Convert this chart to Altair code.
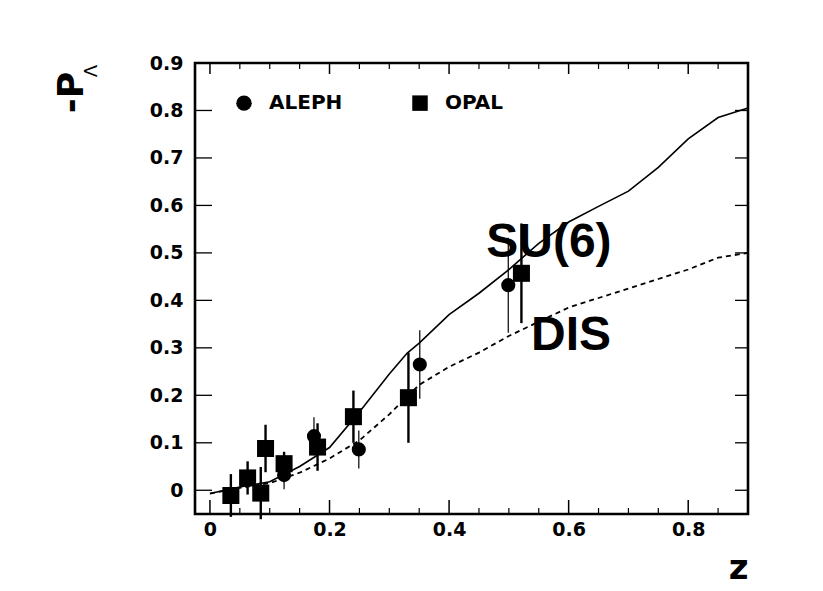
import altair as alt
import pandas as pd

# ---------------- data ----------------
aleph_z = [0.124, 0.174, 0.249, 0.351, 0.499]
aleph_p = [0.032, 0.114, 0.086, 0.265, 0.432]
aleph_err = [0.030, 0.040, 0.040, 0.072, 0.100]

opal_z = [0.035, 0.063, 0.085, 0.093, 0.124, 0.180, 0.240, 0.332, 0.521]
opal_p = [-0.011, 0.026, -0.006, 0.088, 0.056, 0.091, 0.155, 0.195, 0.457]
opal_err = [0.045, 0.035, 0.055, 0.050, 0.025, 0.050, 0.055, 0.095, 0.105]

su6_z = [0, 0.05, 0.1, 0.15, 0.2, 0.25, 0.3, 0.33, 0.35, 0.4, 0.45, 0.5,
         0.55, 0.6, 0.65, 0.7, 0.75, 0.8, 0.85, 0.9]
su6_p = [-0.007, 0.007, 0.018, 0.05, 0.09, 0.165, 0.245, 0.289, 0.31, 0.37,
         0.415, 0.465, 0.52, 0.565, 0.598, 0.63, 0.68, 0.74, 0.785, 0.805]

dis_z = [0, 0.05, 0.1, 0.15, 0.2, 0.25, 0.3, 0.35, 0.4, 0.45, 0.5, 0.55,
         0.6, 0.65, 0.7, 0.75, 0.8, 0.85, 0.9]
dis_p = [-0.007, 0.005, 0.015, 0.037, 0.067, 0.105, 0.16, 0.222, 0.26, 0.29,
         0.325, 0.355, 0.385, 0.405, 0.425, 0.445, 0.465, 0.49, 0.5]

curve_labels = ["SU(6)", "DIS"]
curve_label_z = [0.567, 0.604]
curve_label_p = [0.492, 0.295]

x_major = [0, 0.2, 0.4, 0.6, 0.8]
x_minor = [0.05, 0.1, 0.15, 0.25, 0.3, 0.35, 0.45, 0.5, 0.55, 0.65, 0.7, 0.75, 0.85]
y_ticks = [0, 0.1, 0.2, 0.3, 0.4, 0.5, 0.6, 0.7, 0.8]

# ---------------- frames ----------------
pts = pd.DataFrame({
    "z": aleph_z + opal_z,
    "p": aleph_p + opal_p,
    "err": aleph_err + opal_err,
    "exp": ["ALEPH"] * len(aleph_z) + ["OPAL"] * len(opal_z),
})
pts["lo"] = pts["p"] - pts["err"]
pts["hi"] = pts["p"] + pts["err"]
aleph = pts[pts["exp"] == "ALEPH"]
opal = pts[pts["exp"] == "OPAL"]

su6 = pd.DataFrame({"z": su6_z, "p": su6_p})
dis = pd.DataFrame({"z": dis_z, "p": dis_p})
lab = pd.DataFrame({"z": curve_label_z, "p": curve_label_p, "t": curve_labels})
xmaj = pd.DataFrame({"z": x_major})
xmin = pd.DataFrame({"z": x_minor})
yt = pd.DataFrame({"p": y_ticks})

W, H = 553, 451
FONT = "DejaVu Sans"

xs = alt.Scale(domain=[-0.025, 0.9], nice=False, zero=False)
ys = alt.Scale(domain=[-0.05, 0.9], nice=False, zero=False)

xaxis = alt.Axis(values=x_major, format=".1~f", ticks=False, domain=False, grid=False,
                 labelFont=FONT, labelFontSize=19, labelFontWeight="bold", labelColor="black",
                 labelPadding=6, title="z", titleFont=FONT, titleFontSize=34,
                 titleFontWeight="bold", titleAnchor="end", titleAlign="right",
                 titleBaseline="alphabetic", titleX=W, titleY=64)
yaxis = alt.Axis(values=[0, 0.1, 0.2, 0.3, 0.4, 0.5, 0.6, 0.7, 0.8, 0.9], format=".1~f",
                 ticks=False, domain=False, grid=False,
                 labelFont=FONT, labelFontSize=19, labelFontWeight="bold", labelColor="black",
                 labelPadding=12, title="-P", titleFont=FONT, titleFontSize=36,
                 titleFontWeight="bold", titleAngle=270, titleAlign="center",
                 titleBaseline="middle", titleX=-124, titleY=29)


def X(f="z"):
    return alt.X(f, type="quantitative", scale=xs, axis=xaxis, title="z")


def Y(f="p"):
    return alt.Y(f, type="quantitative", scale=ys, axis=yaxis, title="-P")


shape_scale = alt.Scale(domain=["ALEPH", "OPAL"], range=["circle", "square"])
shape_legend = alt.Legend(orient="none", legendX=39, legendY=30, direction="horizontal",
                          title=None, labelFont=FONT, labelFontSize=20,
                          labelFontWeight="bold", labelColor="black",
                          symbolSize=240, symbolFillColor="black",
                          symbolStrokeColor="black", symbolOpacity=1,
                          labelOffset=15, columnPadding=66)

su6_line = alt.Chart(su6).mark_line(color="black", strokeWidth=1.6).encode(x=X(), y=Y())
dis_line = alt.Chart(dis).mark_line(color="black", strokeWidth=1.8, strokeDash=[5, 4]).encode(
    x=X(), y=Y())

err_aleph = alt.Chart(aleph).mark_rule(color="black", strokeWidth=1.2).encode(
    x=X(), y=Y("lo"), y2="hi")
err_opal = alt.Chart(opal).mark_rule(color="black", strokeWidth=2.4).encode(
    x=X(), y=Y("lo"), y2="hi")

pts_aleph = alt.Chart(aleph).mark_point(filled=True, opacity=1, color="black", size=200).encode(
    x=X(), y=Y(), shape=alt.Shape("exp:N", scale=shape_scale, legend=shape_legend))
pts_opal = alt.Chart(opal).mark_point(filled=True, opacity=1, color="black", size=290).encode(
    x=X(), y=Y(), shape=alt.Shape("exp:N", scale=shape_scale, legend=shape_legend))

texts = alt.Chart(lab).mark_text(
    font="Liberation Sans", fontSize=48, fontWeight="bold", color="black",
    align="center", baseline="alphabetic"
).encode(x=X(), y=Y(), text="t:N")

lam = alt.Chart(pd.DataFrame({"t": ["Λ"]})).mark_text(
    font=FONT, fontSize=18, angle=270, color="black", align="center", baseline="middle"
).encode(x=alt.value(-103), y=alt.value(8), text="t:N")

tick_b_major = alt.Chart(xmaj).mark_rule(color="black", strokeWidth=1.5).encode(
    x=X(), y=alt.value(H), y2=alt.value(H - 14))
tick_b_minor = alt.Chart(xmin).mark_rule(color="black", strokeWidth=1.2).encode(
    x=X(), y=alt.value(H), y2=alt.value(H - 6))
tick_t_major = alt.Chart(xmaj).mark_rule(color="black", strokeWidth=1.5).encode(
    x=X(), y=alt.value(0), y2=alt.value(11))
tick_t_minor = alt.Chart(xmin).mark_rule(color="black", strokeWidth=1.2).encode(
    x=X(), y=alt.value(0), y2=alt.value(6))
tick_l = alt.Chart(yt).mark_rule(color="black", strokeWidth=1.3).encode(
    y=Y(), x=alt.value(0), x2=alt.value(17))
tick_r = alt.Chart(yt).mark_rule(color="black", strokeWidth=1.3).encode(
    y=Y(), x=alt.value(W), x2=alt.value(W - 13))

chart = alt.layer(
    su6_line, dis_line, err_aleph, err_opal, pts_aleph, pts_opal, texts, lam,
    tick_b_major, tick_b_minor, tick_t_major, tick_t_minor, tick_l, tick_r,
).properties(
    width=W, height=H,
    autosize=alt.AutoSizeParams(type="none"),
    padding={"left": 187, "top": 55, "right": 60, "bottom": 74},
    background="white",
).configure_view(stroke="black", strokeWidth=2.6)

chart.save("out.html", embed_options={"renderer": "svg", "actions": False})
